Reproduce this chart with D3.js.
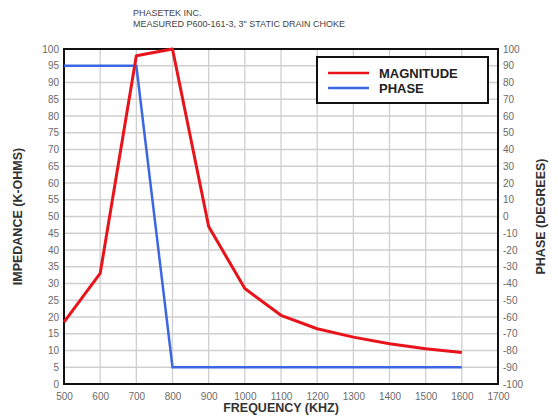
<!DOCTYPE html>
<html>
<head>
<meta charset="utf-8">
<script src="https://cdn.jsdelivr.net/npm/d3@7"></script>
<style>
  body { margin: 0; background: #fff; }
  text { font-family: "Liberation Sans", Arial, sans-serif; }
</style>
</head>
<body>
<svg id="chart" width="559" height="417"></svg>
<script>
// data
var freqs = [500, 600, 700, 800, 900, 1000, 1100, 1200, 1300, 1400, 1500, 1600];
var magnitude = [18.5, 33, 98, 100, 47, 28.5, 20.5, 16.5, 14, 12, 10.5, 9.4];
var phase = [90, 90, 90, -90, -90, -90, -90, -90, -90, -90, -90, -90];
var xTicks = d3.range(500, 1701, 100);
var leftTicks = d3.range(0, 101, 5);
var rightTicks = d3.range(-100, 101, 10);
var titleLines = ["PHASETEK INC.", "MEASURED P600-161-3, 3\" STATIC DRAIN CHOKE"];
var legendItems = [
  { name: "MAGNITUDE", color: "#e8131b" },
  { name: "PHASE", color: "#3b67e3" }
];

var margin = { top: 49, right: 61, bottom: 33, left: 64 },
  width = 559 - margin.left - margin.right,
  height = 417 - margin.top - margin.bottom;

var svg = d3.select("#chart");
var g = svg.append("g")
  .attr("transform", "translate(" + margin.left + "," + margin.top + ")");

var x = d3.scaleLinear().domain([500, 1700]).range([0, width]);
var yL = d3.scaleLinear().domain([0, 100]).range([height, 0]);
var yR = d3.scaleLinear().domain([-100, 100]).range([height, 0]);

// plain hyphen for negatives, like the original
var fmt = function(d) { return String(d); };

// grid
g.append("g").selectAll("line").data(leftTicks).enter().append("line")
  .attr("x1", 0).attr("x2", width)
  .attr("y1", function(d) { return yL(d); })
  .attr("y2", function(d) { return yL(d); })
  .attr("stroke", "#cfcfcf").attr("stroke-width", 1.3);
g.append("g").selectAll("line").data(xTicks).enter().append("line")
  .attr("y1", 0).attr("y2", height)
  .attr("x1", function(d) { return x(d); })
  .attr("x2", function(d) { return x(d); })
  .attr("stroke", "#cfcfcf").attr("stroke-width", 1.3);

// axes
function styleAxis(sel) {
  sel.select(".domain").remove();
  sel.selectAll(".tick line").remove();
  sel.selectAll(".tick text")
    .attr("fill", "#6a6a6a")
    .style("font-size", "10px");
}
g.append("g")
  .call(d3.axisLeft(yL).tickValues(leftTicks).tickFormat(fmt).tickSize(0).tickPadding(5))
  .call(styleAxis);
g.append("g")
  .attr("transform", "translate(" + width + ",0)")
  .call(d3.axisRight(yR).tickValues(rightTicks).tickFormat(fmt).tickSize(0).tickPadding(5))
  .call(styleAxis);
g.append("g")
  .attr("transform", "translate(0," + height + ")")
  .call(d3.axisBottom(x).tickValues(xTicks).tickFormat(fmt).tickSize(0).tickPadding(9))
  .call(styleAxis);

// frame
g.append("rect")
  .attr("width", width).attr("height", height)
  .attr("fill", "none").attr("stroke", "#111").attr("stroke-width", 2);

// series
var magLine = d3.line()
  .x(function(d, i) { return x(freqs[i]); })
  .y(function(d) { return yL(d); });
var phaseLine = d3.line()
  .x(function(d, i) { return x(freqs[i]); })
  .y(function(d) { return yR(d); });

g.append("path").datum(phase)
  .attr("d", phaseLine)
  .attr("fill", "none").attr("stroke", legendItems[1].color).attr("stroke-width", 2.5);
g.append("path").datum(magnitude)
  .attr("d", magLine)
  .attr("fill", "none").attr("stroke", legendItems[0].color).attr("stroke-width", 3)
  .attr("stroke-linejoin", "round");

// legend
var legend = g.append("g").attr("transform", "translate(253,8)");
legend.append("rect")
  .attr("width", 171).attr("height", 46)
  .attr("fill", "#fff").attr("stroke", "#111").attr("stroke-width", 2);
var li = legend.selectAll(".item").data(legendItems).enter().append("g")
  .attr("transform", function(d, i) { return "translate(0," + (16 + i * 15) + ")"; });
li.append("line")
  .attr("x1", 11).attr("x2", 52)
  .attr("stroke", function(d) { return d.color; }).attr("stroke-width", 2.5);
li.append("text")
  .attr("x", 62).attr("dy", "0.36em")
  .attr("fill", "#222").style("font-size", "13px").style("font-weight", "bold")
  .text(function(d) { return d.name; });

// titles
svg.append("g").selectAll("text").data(titleLines).enter().append("text")
  .attr("x", 133).attr("y", function(d, i) { return 16 + i * 11; })
  .attr("fill", "#444").style("font-size", "9px")
  .text(function(d) { return d; });

svg.append("text")
  .attr("x", margin.left + width / 2).attr("y", 412)
  .attr("text-anchor", "middle").attr("fill", "#333")
  .style("font-size", "12.5px").style("font-weight", "bold")
  .text("FREQUENCY (KHZ)");
svg.append("text")
  .attr("transform", "translate(22," + (margin.top + height / 2) + ") rotate(-90)")
  .attr("text-anchor", "middle").attr("fill", "#333")
  .style("font-size", "12.5px").style("font-weight", "bold")
  .text("IMPEDANCE (K-OHMS)");
svg.append("text")
  .attr("transform", "translate(545," + (margin.top + height / 2) + ") rotate(-90)")
  .attr("text-anchor", "middle").attr("fill", "#333")
  .style("font-size", "12.5px").style("font-weight", "bold")
  .text("PHASE (DEGREES)");
</script>
</body>
</html>
